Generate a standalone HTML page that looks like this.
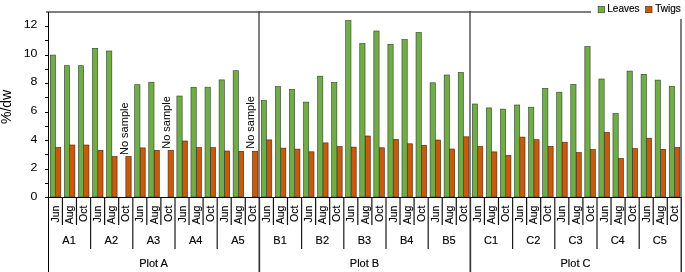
<!DOCTYPE html>
<html><head><meta charset="utf-8"><style>
html,body{margin:0;padding:0;background:#fff;width:685px;height:272px;overflow:hidden}
svg{display:block;will-change:transform}
</style></head><body>
<svg width="685" height="272" viewBox="0 0 685 272" shape-rendering="crispEdges">
<rect x="0" y="0" width="685" height="272" fill="#fff"/>
<rect x="55.55" y="147.40" width="5.25" height="49.60" fill="#c55a11" stroke="#4a2206" stroke-width="0.6" shape-rendering="auto"/>
<rect x="50.30" y="55.10" width="5.25" height="141.90" fill="#70ad47" stroke="#323c2c" stroke-width="0.6" shape-rendering="auto"/>
<rect x="69.62" y="145.00" width="5.25" height="52.00" fill="#c55a11" stroke="#4a2206" stroke-width="0.6" shape-rendering="auto"/>
<rect x="64.37" y="65.70" width="5.25" height="131.30" fill="#70ad47" stroke="#323c2c" stroke-width="0.6" shape-rendering="auto"/>
<rect x="83.68" y="145.00" width="5.25" height="52.00" fill="#c55a11" stroke="#4a2206" stroke-width="0.6" shape-rendering="auto"/>
<rect x="78.43" y="65.70" width="5.25" height="131.30" fill="#70ad47" stroke="#323c2c" stroke-width="0.6" shape-rendering="auto"/>
<rect x="97.75" y="150.30" width="5.25" height="46.70" fill="#c55a11" stroke="#4a2206" stroke-width="0.6" shape-rendering="auto"/>
<rect x="92.50" y="48.40" width="5.25" height="148.60" fill="#70ad47" stroke="#323c2c" stroke-width="0.6" shape-rendering="auto"/>
<rect x="111.82" y="156.50" width="5.25" height="40.50" fill="#c55a11" stroke="#4a2206" stroke-width="0.6" shape-rendering="auto"/>
<rect x="106.57" y="51.00" width="5.25" height="146.00" fill="#70ad47" stroke="#323c2c" stroke-width="0.6" shape-rendering="auto"/>
<rect x="125.88" y="156.50" width="5.25" height="40.50" fill="#c55a11" stroke="#4a2206" stroke-width="0.6" shape-rendering="auto"/>
<rect x="139.95" y="147.90" width="5.25" height="49.10" fill="#c55a11" stroke="#4a2206" stroke-width="0.6" shape-rendering="auto"/>
<rect x="134.70" y="84.70" width="5.25" height="112.30" fill="#70ad47" stroke="#323c2c" stroke-width="0.6" shape-rendering="auto"/>
<rect x="154.02" y="150.30" width="5.25" height="46.70" fill="#c55a11" stroke="#4a2206" stroke-width="0.6" shape-rendering="auto"/>
<rect x="148.77" y="82.20" width="5.25" height="114.80" fill="#70ad47" stroke="#323c2c" stroke-width="0.6" shape-rendering="auto"/>
<rect x="168.08" y="150.30" width="5.25" height="46.70" fill="#c55a11" stroke="#4a2206" stroke-width="0.6" shape-rendering="auto"/>
<rect x="182.15" y="141.00" width="5.25" height="56.00" fill="#c55a11" stroke="#4a2206" stroke-width="0.6" shape-rendering="auto"/>
<rect x="176.90" y="96.00" width="5.25" height="101.00" fill="#70ad47" stroke="#323c2c" stroke-width="0.6" shape-rendering="auto"/>
<rect x="196.22" y="147.60" width="5.25" height="49.40" fill="#c55a11" stroke="#4a2206" stroke-width="0.6" shape-rendering="auto"/>
<rect x="190.97" y="87.20" width="5.25" height="109.80" fill="#70ad47" stroke="#323c2c" stroke-width="0.6" shape-rendering="auto"/>
<rect x="210.28" y="147.60" width="5.25" height="49.40" fill="#c55a11" stroke="#4a2206" stroke-width="0.6" shape-rendering="auto"/>
<rect x="205.03" y="87.20" width="5.25" height="109.80" fill="#70ad47" stroke="#323c2c" stroke-width="0.6" shape-rendering="auto"/>
<rect x="224.35" y="151.00" width="5.25" height="46.00" fill="#c55a11" stroke="#4a2206" stroke-width="0.6" shape-rendering="auto"/>
<rect x="219.10" y="79.90" width="5.25" height="117.10" fill="#70ad47" stroke="#323c2c" stroke-width="0.6" shape-rendering="auto"/>
<rect x="238.42" y="151.30" width="5.25" height="45.70" fill="#c55a11" stroke="#4a2206" stroke-width="0.6" shape-rendering="auto"/>
<rect x="233.17" y="70.70" width="5.25" height="126.30" fill="#70ad47" stroke="#323c2c" stroke-width="0.6" shape-rendering="auto"/>
<rect x="252.48" y="151.30" width="5.25" height="45.70" fill="#c55a11" stroke="#4a2206" stroke-width="0.6" shape-rendering="auto"/>
<rect x="266.55" y="139.90" width="5.25" height="57.10" fill="#c55a11" stroke="#4a2206" stroke-width="0.6" shape-rendering="auto"/>
<rect x="261.30" y="100.60" width="5.25" height="96.40" fill="#70ad47" stroke="#323c2c" stroke-width="0.6" shape-rendering="auto"/>
<rect x="280.62" y="148.10" width="5.25" height="48.90" fill="#c55a11" stroke="#4a2206" stroke-width="0.6" shape-rendering="auto"/>
<rect x="275.37" y="86.60" width="5.25" height="110.40" fill="#70ad47" stroke="#323c2c" stroke-width="0.6" shape-rendering="auto"/>
<rect x="294.68" y="149.10" width="5.25" height="47.90" fill="#c55a11" stroke="#4a2206" stroke-width="0.6" shape-rendering="auto"/>
<rect x="289.43" y="89.30" width="5.25" height="107.70" fill="#70ad47" stroke="#323c2c" stroke-width="0.6" shape-rendering="auto"/>
<rect x="308.75" y="151.80" width="5.25" height="45.20" fill="#c55a11" stroke="#4a2206" stroke-width="0.6" shape-rendering="auto"/>
<rect x="303.50" y="102.10" width="5.25" height="94.90" fill="#70ad47" stroke="#323c2c" stroke-width="0.6" shape-rendering="auto"/>
<rect x="322.82" y="142.90" width="5.25" height="54.10" fill="#c55a11" stroke="#4a2206" stroke-width="0.6" shape-rendering="auto"/>
<rect x="317.57" y="76.20" width="5.25" height="120.80" fill="#70ad47" stroke="#323c2c" stroke-width="0.6" shape-rendering="auto"/>
<rect x="336.88" y="146.60" width="5.25" height="50.40" fill="#c55a11" stroke="#4a2206" stroke-width="0.6" shape-rendering="auto"/>
<rect x="331.63" y="82.50" width="5.25" height="114.50" fill="#70ad47" stroke="#323c2c" stroke-width="0.6" shape-rendering="auto"/>
<rect x="350.95" y="147.10" width="5.25" height="49.90" fill="#c55a11" stroke="#4a2206" stroke-width="0.6" shape-rendering="auto"/>
<rect x="345.70" y="20.60" width="5.25" height="176.40" fill="#70ad47" stroke="#323c2c" stroke-width="0.6" shape-rendering="auto"/>
<rect x="365.02" y="136.00" width="5.25" height="61.00" fill="#c55a11" stroke="#4a2206" stroke-width="0.6" shape-rendering="auto"/>
<rect x="359.77" y="43.50" width="5.25" height="153.50" fill="#70ad47" stroke="#323c2c" stroke-width="0.6" shape-rendering="auto"/>
<rect x="379.08" y="147.80" width="5.25" height="49.20" fill="#c55a11" stroke="#4a2206" stroke-width="0.6" shape-rendering="auto"/>
<rect x="373.83" y="31.00" width="5.25" height="166.00" fill="#70ad47" stroke="#323c2c" stroke-width="0.6" shape-rendering="auto"/>
<rect x="393.15" y="139.30" width="5.25" height="57.70" fill="#c55a11" stroke="#4a2206" stroke-width="0.6" shape-rendering="auto"/>
<rect x="387.90" y="44.30" width="5.25" height="152.70" fill="#70ad47" stroke="#323c2c" stroke-width="0.6" shape-rendering="auto"/>
<rect x="407.22" y="143.80" width="5.25" height="53.20" fill="#c55a11" stroke="#4a2206" stroke-width="0.6" shape-rendering="auto"/>
<rect x="401.97" y="39.60" width="5.25" height="157.40" fill="#70ad47" stroke="#323c2c" stroke-width="0.6" shape-rendering="auto"/>
<rect x="421.28" y="145.30" width="5.25" height="51.70" fill="#c55a11" stroke="#4a2206" stroke-width="0.6" shape-rendering="auto"/>
<rect x="416.03" y="32.50" width="5.25" height="164.50" fill="#70ad47" stroke="#323c2c" stroke-width="0.6" shape-rendering="auto"/>
<rect x="435.35" y="140.00" width="5.25" height="57.00" fill="#c55a11" stroke="#4a2206" stroke-width="0.6" shape-rendering="auto"/>
<rect x="430.10" y="82.80" width="5.25" height="114.20" fill="#70ad47" stroke="#323c2c" stroke-width="0.6" shape-rendering="auto"/>
<rect x="449.42" y="149.00" width="5.25" height="48.00" fill="#c55a11" stroke="#4a2206" stroke-width="0.6" shape-rendering="auto"/>
<rect x="444.17" y="75.00" width="5.25" height="122.00" fill="#70ad47" stroke="#323c2c" stroke-width="0.6" shape-rendering="auto"/>
<rect x="463.48" y="136.80" width="5.25" height="60.20" fill="#c55a11" stroke="#4a2206" stroke-width="0.6" shape-rendering="auto"/>
<rect x="458.23" y="72.50" width="5.25" height="124.50" fill="#70ad47" stroke="#323c2c" stroke-width="0.6" shape-rendering="auto"/>
<rect x="477.55" y="146.60" width="5.25" height="50.40" fill="#c55a11" stroke="#4a2206" stroke-width="0.6" shape-rendering="auto"/>
<rect x="472.30" y="104.00" width="5.25" height="93.00" fill="#70ad47" stroke="#323c2c" stroke-width="0.6" shape-rendering="auto"/>
<rect x="491.62" y="151.90" width="5.25" height="45.10" fill="#c55a11" stroke="#4a2206" stroke-width="0.6" shape-rendering="auto"/>
<rect x="486.37" y="107.90" width="5.25" height="89.10" fill="#70ad47" stroke="#323c2c" stroke-width="0.6" shape-rendering="auto"/>
<rect x="505.68" y="155.40" width="5.25" height="41.60" fill="#c55a11" stroke="#4a2206" stroke-width="0.6" shape-rendering="auto"/>
<rect x="500.43" y="109.10" width="5.25" height="87.90" fill="#70ad47" stroke="#323c2c" stroke-width="0.6" shape-rendering="auto"/>
<rect x="519.75" y="137.10" width="5.25" height="59.90" fill="#c55a11" stroke="#4a2206" stroke-width="0.6" shape-rendering="auto"/>
<rect x="514.50" y="105.00" width="5.25" height="92.00" fill="#70ad47" stroke="#323c2c" stroke-width="0.6" shape-rendering="auto"/>
<rect x="533.82" y="139.70" width="5.25" height="57.30" fill="#c55a11" stroke="#4a2206" stroke-width="0.6" shape-rendering="auto"/>
<rect x="528.57" y="107.20" width="5.25" height="89.80" fill="#70ad47" stroke="#323c2c" stroke-width="0.6" shape-rendering="auto"/>
<rect x="547.88" y="146.30" width="5.25" height="50.70" fill="#c55a11" stroke="#4a2206" stroke-width="0.6" shape-rendering="auto"/>
<rect x="542.63" y="88.40" width="5.25" height="108.60" fill="#70ad47" stroke="#323c2c" stroke-width="0.6" shape-rendering="auto"/>
<rect x="561.95" y="142.20" width="5.25" height="54.80" fill="#c55a11" stroke="#4a2206" stroke-width="0.6" shape-rendering="auto"/>
<rect x="556.70" y="92.20" width="5.25" height="104.80" fill="#70ad47" stroke="#323c2c" stroke-width="0.6" shape-rendering="auto"/>
<rect x="576.02" y="152.60" width="5.25" height="44.40" fill="#c55a11" stroke="#4a2206" stroke-width="0.6" shape-rendering="auto"/>
<rect x="570.77" y="84.40" width="5.25" height="112.60" fill="#70ad47" stroke="#323c2c" stroke-width="0.6" shape-rendering="auto"/>
<rect x="590.08" y="149.60" width="5.25" height="47.40" fill="#c55a11" stroke="#4a2206" stroke-width="0.6" shape-rendering="auto"/>
<rect x="584.83" y="46.60" width="5.25" height="150.40" fill="#70ad47" stroke="#323c2c" stroke-width="0.6" shape-rendering="auto"/>
<rect x="604.15" y="132.40" width="5.25" height="64.60" fill="#c55a11" stroke="#4a2206" stroke-width="0.6" shape-rendering="auto"/>
<rect x="598.90" y="79.00" width="5.25" height="118.00" fill="#70ad47" stroke="#323c2c" stroke-width="0.6" shape-rendering="auto"/>
<rect x="618.22" y="158.40" width="5.25" height="38.60" fill="#c55a11" stroke="#4a2206" stroke-width="0.6" shape-rendering="auto"/>
<rect x="612.97" y="113.50" width="5.25" height="83.50" fill="#70ad47" stroke="#323c2c" stroke-width="0.6" shape-rendering="auto"/>
<rect x="632.28" y="148.60" width="5.25" height="48.40" fill="#c55a11" stroke="#4a2206" stroke-width="0.6" shape-rendering="auto"/>
<rect x="627.03" y="71.10" width="5.25" height="125.90" fill="#70ad47" stroke="#323c2c" stroke-width="0.6" shape-rendering="auto"/>
<rect x="646.35" y="138.20" width="5.25" height="58.80" fill="#c55a11" stroke="#4a2206" stroke-width="0.6" shape-rendering="auto"/>
<rect x="641.10" y="74.30" width="5.25" height="122.70" fill="#70ad47" stroke="#323c2c" stroke-width="0.6" shape-rendering="auto"/>
<rect x="660.42" y="149.30" width="5.25" height="47.70" fill="#c55a11" stroke="#4a2206" stroke-width="0.6" shape-rendering="auto"/>
<rect x="655.17" y="80.10" width="5.25" height="116.90" fill="#70ad47" stroke="#323c2c" stroke-width="0.6" shape-rendering="auto"/>
<rect x="674.48" y="147.40" width="5.25" height="49.60" fill="#c55a11" stroke="#4a2206" stroke-width="0.6" shape-rendering="auto"/>
<rect x="669.23" y="86.20" width="5.25" height="110.80" fill="#70ad47" stroke="#323c2c" stroke-width="0.6" shape-rendering="auto"/>
<rect x="46" y="11" width="545" height="2" fill="#7f7f7f"/>
<rect x="258" y="11" width="2" height="186" fill="#7f7f7f"/>
<rect x="469" y="11" width="2" height="186" fill="#7f7f7f"/>
<rect x="680" y="19" width="2" height="178" fill="#7f7f7f"/>
<rect x="258" y="11" width="2" height="2" fill="#555"/>
<rect x="469" y="11" width="2" height="2" fill="#555"/>
<rect x="258" y="197" width="1" height="75" fill="#999"/>
<rect x="259" y="197" width="1" height="75" fill="#333"/>
<rect x="260" y="197" width="1" height="75" fill="#ddd"/>
<rect x="469" y="197" width="1" height="75" fill="#999"/>
<rect x="470" y="197" width="1" height="75" fill="#333"/>
<rect x="471" y="197" width="1" height="75" fill="#ddd"/>
<rect x="680" y="197" width="1" height="75" fill="#999"/>
<rect x="681" y="197" width="1" height="75" fill="#333"/>
<rect x="48" y="12" width="1" height="260" fill="#000"/>
<rect x="45" y="197" width="636" height="1" fill="#000"/>
<rect x="45" y="197" width="3" height="1" fill="#000"/>
<rect x="45" y="183" width="3" height="1" fill="#000"/>
<rect x="45" y="169" width="3" height="1" fill="#000"/>
<rect x="45" y="154" width="3" height="1" fill="#000"/>
<rect x="45" y="140" width="3" height="1" fill="#000"/>
<rect x="45" y="126" width="3" height="1" fill="#000"/>
<rect x="45" y="112" width="3" height="1" fill="#000"/>
<rect x="45" y="97" width="3" height="1" fill="#000"/>
<rect x="45" y="83" width="3" height="1" fill="#000"/>
<rect x="45" y="69" width="3" height="1" fill="#000"/>
<rect x="45" y="55" width="3" height="1" fill="#000"/>
<rect x="45" y="40" width="3" height="1" fill="#000"/>
<rect x="45" y="26" width="3" height="1" fill="#000"/>
<rect x="61.82" y="197" width="1.2" height="28" fill="#111" shape-rendering="auto"/>
<rect x="75.88" y="197" width="1.2" height="28" fill="#111" shape-rendering="auto"/>
<rect x="90.00" y="197" width="1.2" height="52" fill="#1a1a1a" shape-rendering="auto"/>
<rect x="104.02" y="197" width="1.2" height="28" fill="#111" shape-rendering="auto"/>
<rect x="118.08" y="197" width="1.2" height="28" fill="#111" shape-rendering="auto"/>
<rect x="132.20" y="197" width="1.2" height="52" fill="#1a1a1a" shape-rendering="auto"/>
<rect x="146.22" y="197" width="1.2" height="28" fill="#111" shape-rendering="auto"/>
<rect x="160.28" y="197" width="1.2" height="28" fill="#111" shape-rendering="auto"/>
<rect x="174.40" y="197" width="1.2" height="52" fill="#1a1a1a" shape-rendering="auto"/>
<rect x="188.42" y="197" width="1.2" height="28" fill="#111" shape-rendering="auto"/>
<rect x="202.48" y="197" width="1.2" height="28" fill="#111" shape-rendering="auto"/>
<rect x="216.60" y="197" width="1.2" height="52" fill="#1a1a1a" shape-rendering="auto"/>
<rect x="230.62" y="197" width="1.2" height="28" fill="#111" shape-rendering="auto"/>
<rect x="244.68" y="197" width="1.2" height="28" fill="#111" shape-rendering="auto"/>
<rect x="272.82" y="197" width="1.2" height="28" fill="#111" shape-rendering="auto"/>
<rect x="286.88" y="197" width="1.2" height="28" fill="#111" shape-rendering="auto"/>
<rect x="301.00" y="197" width="1.2" height="52" fill="#1a1a1a" shape-rendering="auto"/>
<rect x="315.02" y="197" width="1.2" height="28" fill="#111" shape-rendering="auto"/>
<rect x="329.08" y="197" width="1.2" height="28" fill="#111" shape-rendering="auto"/>
<rect x="343.20" y="197" width="1.2" height="52" fill="#1a1a1a" shape-rendering="auto"/>
<rect x="357.22" y="197" width="1.2" height="28" fill="#111" shape-rendering="auto"/>
<rect x="371.28" y="197" width="1.2" height="28" fill="#111" shape-rendering="auto"/>
<rect x="385.40" y="197" width="1.2" height="52" fill="#1a1a1a" shape-rendering="auto"/>
<rect x="399.42" y="197" width="1.2" height="28" fill="#111" shape-rendering="auto"/>
<rect x="413.48" y="197" width="1.2" height="28" fill="#111" shape-rendering="auto"/>
<rect x="427.60" y="197" width="1.2" height="52" fill="#1a1a1a" shape-rendering="auto"/>
<rect x="441.62" y="197" width="1.2" height="28" fill="#111" shape-rendering="auto"/>
<rect x="455.68" y="197" width="1.2" height="28" fill="#111" shape-rendering="auto"/>
<rect x="483.82" y="197" width="1.2" height="28" fill="#111" shape-rendering="auto"/>
<rect x="497.88" y="197" width="1.2" height="28" fill="#111" shape-rendering="auto"/>
<rect x="512.00" y="197" width="1.2" height="52" fill="#1a1a1a" shape-rendering="auto"/>
<rect x="526.02" y="197" width="1.2" height="28" fill="#111" shape-rendering="auto"/>
<rect x="540.08" y="197" width="1.2" height="28" fill="#111" shape-rendering="auto"/>
<rect x="554.20" y="197" width="1.2" height="52" fill="#1a1a1a" shape-rendering="auto"/>
<rect x="568.22" y="197" width="1.2" height="28" fill="#111" shape-rendering="auto"/>
<rect x="582.28" y="197" width="1.2" height="28" fill="#111" shape-rendering="auto"/>
<rect x="596.40" y="197" width="1.2" height="52" fill="#1a1a1a" shape-rendering="auto"/>
<rect x="610.42" y="197" width="1.2" height="28" fill="#111" shape-rendering="auto"/>
<rect x="624.48" y="197" width="1.2" height="28" fill="#111" shape-rendering="auto"/>
<rect x="638.60" y="197" width="1.2" height="52" fill="#1a1a1a" shape-rendering="auto"/>
<rect x="652.62" y="197" width="1.2" height="28" fill="#111" shape-rendering="auto"/>
<rect x="666.68" y="197" width="1.2" height="28" fill="#111" shape-rendering="auto"/>
<g font-family='"Liberation Sans", sans-serif' fill="#000" stroke="#000" stroke-width="0.15" shape-rendering="auto">
<text transform="translate(37.5,199.85) scale(1.18,1)" font-size="10.5" stroke="none" text-anchor="end">0</text>
<text transform="translate(37.5,171.25) scale(1.18,1)" font-size="10.5" stroke="none" text-anchor="end">2</text>
<text transform="translate(37.5,142.65) scale(1.18,1)" font-size="10.5" stroke="none" text-anchor="end">4</text>
<text transform="translate(37.5,114.05) scale(1.18,1)" font-size="10.5" stroke="none" text-anchor="end">6</text>
<text transform="translate(37.5,85.45) scale(1.18,1)" font-size="10.5" stroke="none" text-anchor="end">8</text>
<text transform="translate(37.5,56.85) scale(1.18,1)" font-size="10.5" stroke="none" text-anchor="end">10</text>
<text transform="translate(37.5,28.25) scale(1.18,1)" font-size="10.5" stroke="none" text-anchor="end">12</text>
<text transform="translate(11.2,124) rotate(-90)" font-size="14" stroke="none">%/dw</text>
<text transform="translate(59.03,205.6) rotate(-90)" font-size="10.5" text-anchor="end">Jun</text>
<text transform="translate(73.10,205.6) rotate(-90)" font-size="10.5" text-anchor="end">Aug</text>
<text transform="translate(87.16,205.6) rotate(-90)" font-size="10.5" text-anchor="end">Oct</text>
<text transform="translate(101.23,205.6) rotate(-90)" font-size="10.5" text-anchor="end">Jun</text>
<text transform="translate(115.30,205.6) rotate(-90)" font-size="10.5" text-anchor="end">Aug</text>
<text transform="translate(129.36,205.6) rotate(-90)" font-size="10.5" text-anchor="end">Oct</text>
<text transform="translate(143.43,205.6) rotate(-90)" font-size="10.5" text-anchor="end">Jun</text>
<text transform="translate(157.50,205.6) rotate(-90)" font-size="10.5" text-anchor="end">Aug</text>
<text transform="translate(171.56,205.6) rotate(-90)" font-size="10.5" text-anchor="end">Oct</text>
<text transform="translate(185.63,205.6) rotate(-90)" font-size="10.5" text-anchor="end">Jun</text>
<text transform="translate(199.70,205.6) rotate(-90)" font-size="10.5" text-anchor="end">Aug</text>
<text transform="translate(213.76,205.6) rotate(-90)" font-size="10.5" text-anchor="end">Oct</text>
<text transform="translate(227.83,205.6) rotate(-90)" font-size="10.5" text-anchor="end">Jun</text>
<text transform="translate(241.90,205.6) rotate(-90)" font-size="10.5" text-anchor="end">Aug</text>
<text transform="translate(255.96,205.6) rotate(-90)" font-size="10.5" text-anchor="end">Oct</text>
<text transform="translate(270.03,205.6) rotate(-90)" font-size="10.5" text-anchor="end">Jun</text>
<text transform="translate(284.10,205.6) rotate(-90)" font-size="10.5" text-anchor="end">Aug</text>
<text transform="translate(298.16,205.6) rotate(-90)" font-size="10.5" text-anchor="end">Oct</text>
<text transform="translate(312.23,205.6) rotate(-90)" font-size="10.5" text-anchor="end">Jun</text>
<text transform="translate(326.30,205.6) rotate(-90)" font-size="10.5" text-anchor="end">Aug</text>
<text transform="translate(340.36,205.6) rotate(-90)" font-size="10.5" text-anchor="end">Oct</text>
<text transform="translate(354.43,205.6) rotate(-90)" font-size="10.5" text-anchor="end">Jun</text>
<text transform="translate(368.50,205.6) rotate(-90)" font-size="10.5" text-anchor="end">Aug</text>
<text transform="translate(382.56,205.6) rotate(-90)" font-size="10.5" text-anchor="end">Oct</text>
<text transform="translate(396.63,205.6) rotate(-90)" font-size="10.5" text-anchor="end">Jun</text>
<text transform="translate(410.70,205.6) rotate(-90)" font-size="10.5" text-anchor="end">Aug</text>
<text transform="translate(424.76,205.6) rotate(-90)" font-size="10.5" text-anchor="end">Oct</text>
<text transform="translate(438.83,205.6) rotate(-90)" font-size="10.5" text-anchor="end">Jun</text>
<text transform="translate(452.90,205.6) rotate(-90)" font-size="10.5" text-anchor="end">Aug</text>
<text transform="translate(466.96,205.6) rotate(-90)" font-size="10.5" text-anchor="end">Oct</text>
<text transform="translate(481.03,205.6) rotate(-90)" font-size="10.5" text-anchor="end">Jun</text>
<text transform="translate(495.10,205.6) rotate(-90)" font-size="10.5" text-anchor="end">Aug</text>
<text transform="translate(509.16,205.6) rotate(-90)" font-size="10.5" text-anchor="end">Oct</text>
<text transform="translate(523.23,205.6) rotate(-90)" font-size="10.5" text-anchor="end">Jun</text>
<text transform="translate(537.30,205.6) rotate(-90)" font-size="10.5" text-anchor="end">Aug</text>
<text transform="translate(551.36,205.6) rotate(-90)" font-size="10.5" text-anchor="end">Oct</text>
<text transform="translate(565.43,205.6) rotate(-90)" font-size="10.5" text-anchor="end">Jun</text>
<text transform="translate(579.50,205.6) rotate(-90)" font-size="10.5" text-anchor="end">Aug</text>
<text transform="translate(593.56,205.6) rotate(-90)" font-size="10.5" text-anchor="end">Oct</text>
<text transform="translate(607.63,205.6) rotate(-90)" font-size="10.5" text-anchor="end">Jun</text>
<text transform="translate(621.70,205.6) rotate(-90)" font-size="10.5" text-anchor="end">Aug</text>
<text transform="translate(635.76,205.6) rotate(-90)" font-size="10.5" text-anchor="end">Oct</text>
<text transform="translate(649.83,205.6) rotate(-90)" font-size="10.5" text-anchor="end">Jun</text>
<text transform="translate(663.90,205.6) rotate(-90)" font-size="10.5" text-anchor="end">Aug</text>
<text transform="translate(677.96,205.6) rotate(-90)" font-size="10.5" text-anchor="end">Oct</text>
<text x="69.10" y="243.8" font-size="11" text-anchor="middle">A1</text>
<text x="111.30" y="243.8" font-size="11" text-anchor="middle">A2</text>
<text x="153.50" y="243.8" font-size="11" text-anchor="middle">A3</text>
<text x="195.70" y="243.8" font-size="11" text-anchor="middle">A4</text>
<text x="237.90" y="243.8" font-size="11" text-anchor="middle">A5</text>
<text x="280.10" y="243.8" font-size="11" text-anchor="middle">B1</text>
<text x="322.30" y="243.8" font-size="11" text-anchor="middle">B2</text>
<text x="364.50" y="243.8" font-size="11" text-anchor="middle">B3</text>
<text x="406.70" y="243.8" font-size="11" text-anchor="middle">B4</text>
<text x="448.90" y="243.8" font-size="11" text-anchor="middle">B5</text>
<text x="491.10" y="243.8" font-size="11" text-anchor="middle">C1</text>
<text x="533.30" y="243.8" font-size="11" text-anchor="middle">C2</text>
<text x="575.50" y="243.8" font-size="11" text-anchor="middle">C3</text>
<text x="617.70" y="243.8" font-size="11" text-anchor="middle">C4</text>
<text x="659.90" y="243.8" font-size="11" text-anchor="middle">C5</text>
<text x="153.50" y="267" font-size="11" text-anchor="middle">Plot A</text>
<text x="364.50" y="267" font-size="11" text-anchor="middle">Plot B</text>
<text x="575.50" y="267" font-size="11" text-anchor="middle">Plot C</text>
<text transform="translate(127.5,155) rotate(-90)" font-size="11" stroke="none">No sample</text>
<text transform="translate(169.5,148.8) rotate(-90)" font-size="11" stroke="none">No sample</text>
<text transform="translate(253.7,148.8) rotate(-90)" font-size="11" stroke="none">No sample</text>
</g>
<rect x="598.1" y="6.3" width="6.6" height="6.5" fill="#70ad47" stroke="#323c2c" stroke-width="0.6" shape-rendering="auto"/>
<rect x="645.6" y="6.3" width="6.4" height="6.4" fill="#c55a11" stroke="#4a2206" stroke-width="0.6" shape-rendering="auto"/>
<g font-family='"Liberation Sans", sans-serif' fill="#000" stroke="#000" stroke-width="0.15" font-size="10" shape-rendering="auto">
<text x="607.3" y="12">Leaves</text>
<text x="655.2" y="12">Twigs</text>
</g>
</svg>
</body></html>
